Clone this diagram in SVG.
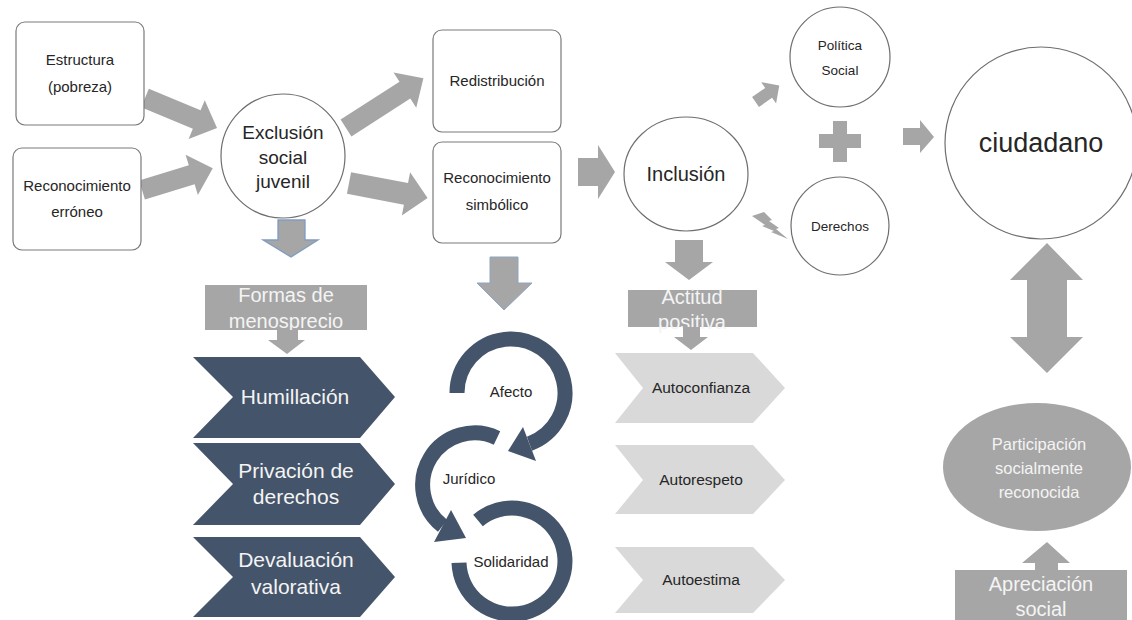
<svg xmlns="http://www.w3.org/2000/svg" width="1132" height="620" viewBox="0 0 1132 620">
<style>
text{font-family:"Liberation Sans",Arial,sans-serif;text-anchor:middle}
.box{fill:#fff;stroke:#7a7a7a;stroke-width:1.2}
.circ{fill:#fff;stroke:#6e6e6e;stroke-width:1.2}
.dk{fill:#262626}
.ga{fill:#a6a6a6}
.wt{fill:#f4f4f4}
.chev{fill:#44546a}
.lchev{fill:#d9d9d9}
.ring{fill:none;stroke:#44546a;stroke-width:15}
</style>
<rect width="1132" height="620" fill="#fff"/>

<g id="connectors">
  <!-- Estructura -> Exclusion -->
  <polygon class="ga" transform="translate(145,98) rotate(22.6)" points="0,-10 56,-10 56,-21 78,0 56,21 56,10 0,10"/>
  <!-- Erroneo -> Exclusion -->
  <polygon class="ga" transform="translate(142,190) rotate(-17)" points="0,-10 52,-10 52,-21 74,0 52,21 52,10 0,10"/>
  <!-- Exclusion -> Redistribucion -->
  <polygon class="ga" transform="translate(346,128) rotate(-32.7)" points="0,-10 70,-10 70,-21 92,0 70,21 70,10 0,10"/>
  <!-- Exclusion -> Reconocimiento simbolico -->
  <polygon class="ga" transform="translate(349,183) rotate(10.8)" points="0,-11 58,-11 58,-22 80,0 58,22 58,11 0,11"/>
  <!-- Reconocimiento simbolico -> Inclusion -->
  <polygon class="ga" points="578,158 598,158 598,145 615,172 598,199 598,186 578,186"/>
  <!-- small arrow to Politica Social -->
  <polygon class="ga" transform="translate(767,94) rotate(-35)" points="-14,-6 2,-6 2,-13 15,0 2,13 2,6 -14,6"/>
  <!-- lightning bolt to Derechos -->
  <polygon class="ga" points="752,216 764,212 772,220 769,221 779,228 776,229 788,239 771,232 774,231 762,226 765,225"/>
  <!-- plus -->
  <polygon class="ga" points="833,121 847,121 847,134 861,134 861,148 847,148 847,162 833,162 833,148 819,148 819,134 833,134"/>
  <!-- arrow to ciudadano -->
  <polygon class="ga" points="903,128 920,128 920,120 934,137 920,153 920,145 903,145"/>
  <!-- down from Exclusion -->
  <polygon class="ga" stroke="#7f9cc2" stroke-width="1.3" points="278,220 305,220 305,240 318,240 291,257 263,240 278,240"/>
  <!-- down from Reconocimiento simbolico -->
  <polygon class="ga" stroke="#8fa6c4" stroke-width="1" points="490,257 518,257 518,283 532,283 504,310 477,283 490,283"/>
  <!-- down from Inclusion -->
  <polygon class="ga" points="675,240 703,240 703,262 713,262 689,280 665,262 675,262"/>
  <!-- double arrow ciudadano <-> participacion -->
  <polygon class="ga" points="1047,243 1083,280 1067,280 1067,337 1083,337 1047,373 1010,337 1027,337 1027,280 1010,280"/>
  <!-- up arrow from Apreciacion social -->
  <polygon class="ga" points="1047,542 1070,563 1058,563 1058,573 1035,573 1035,563 1022,563"/>
</g>

<g id="estructura">
  <rect class="box" x="16" y="22" width="128" height="103" rx="9"/>
  <text class="dk" x="80" y="65" font-size="15">Estructura</text>
  <text class="dk" x="80" y="92" font-size="15">(pobreza)</text>
</g>
<g id="reconocimiento-erroneo">
  <rect class="box" x="13" y="148" width="128" height="102" rx="9"/>
  <text class="dk" x="77" y="191" font-size="15">Reconocimiento</text>
  <text class="dk" x="77" y="217" font-size="15">erróneo</text>
</g>
<g id="exclusion">
  <circle class="circ" cx="283" cy="156" r="62"/>
  <text class="dk" x="283" y="139" font-size="19">Exclusión</text>
  <text class="dk" x="283" y="164" font-size="19">social</text>
  <text class="dk" x="283" y="188" font-size="19">juvenil</text>
</g>
<g id="redistribucion">
  <rect class="box" x="433" y="30" width="128" height="102" rx="9"/>
  <text class="dk" x="497" y="86" font-size="15">Redistribución</text>
</g>
<g id="reconocimiento-simbolico">
  <rect class="box" x="433" y="142" width="128" height="101" rx="9"/>
  <text class="dk" x="497" y="183" font-size="15">Reconocimiento</text>
  <text class="dk" x="497" y="210" font-size="15">simbólico</text>
</g>
<g id="inclusion">
  <ellipse class="circ" cx="686" cy="174" rx="62" ry="57"/>
  <text class="dk" x="686" y="181" font-size="20">Inclusión</text>
</g>
<g id="politica-social">
  <circle class="circ" cx="840" cy="57" r="50"/>
  <text class="dk" x="840" y="50" font-size="13.5">Política</text>
  <text class="dk" x="840" y="75" font-size="13.5">Social</text>
</g>
<g id="derechos">
  <circle class="circ" cx="840" cy="226" r="49"/>
  <text class="dk" x="840" y="231" font-size="13.5">Derechos</text>
</g>
<g id="ciudadano">
  <circle class="circ" cx="1041" cy="143" r="96"/>
  <text class="dk" x="1041" y="152" font-size="27">ciudadano</text>
</g>

<g id="formas-menosprecio">
  <rect class="ga" x="205" y="285" width="162" height="45"/>
  <text class="wt" x="286" y="302" font-size="20">Formas de</text>
  <text class="wt" x="286" y="328" font-size="20">menosprecio</text>
  <polygon class="ga" points="277,330 298,330 298,340 305,340 287,354 268,340 277,340"/>
</g>
<g id="humillacion">
  <polygon class="chev" points="193,357 360,357 395,397 360,438 193,438 233,397"/>
  <text class="wt" x="295" y="404" font-size="21">Humillación</text>
</g>
<g id="privacion">
  <polygon class="chev" points="193,443 360,443 395,484 360,525 193,525 233,484"/>
  <text class="wt" x="296" y="478" font-size="21">Privación de</text>
  <text class="wt" x="296" y="504" font-size="21">derechos</text>
</g>
<g id="devaluacion">
  <polygon class="chev" points="193,537 360,537 395,577 360,617 193,617 233,577"/>
  <text class="wt" x="296" y="567" font-size="21">Devaluación</text>
  <text class="wt" x="296" y="594" font-size="21">valorativa</text>
</g>

<g id="afecto">
  <path class="ring" d="M457,393 A54,54 0 1 1 529.5,443.7"/>
  <polygon class="chev" points="523,427 536,461 508,451"/>
  <text class="dk" x="511" y="397" font-size="15">Afecto</text>
</g>
<g id="juridico">
  <path class="ring" d="M497,438 A52,52 0 0 0 442.6,525.9"/>
  <polygon class="chev" points="451,510 434,542 466,538"/>
  <text class="dk" x="469" y="484" font-size="15">Jurídico</text>
</g>
<g id="solidaridad">
  <path class="ring" d="M478,520.4 A53,53 0 1 1 459,562.8"/>
  <text class="dk" x="511" y="567" font-size="15">Solidaridad</text>
</g>

<g id="actitud-positiva">
  <rect class="ga" x="628" y="290" width="129" height="37"/>
  <text class="wt" x="692" y="304" font-size="20">Actitud</text>
  <text class="wt" x="692" y="329" font-size="20">positiva</text>
  <polygon class="ga" points="683,327 700,327 700,337 708,337 691,350 674,337 683,337"/>
</g>
<g id="autoconfianza">
  <polygon class="lchev" points="615,353 753,353 785,388 753,423 615,423 643,388"/>
  <text class="dk" x="701" y="393" font-size="15.5">Autoconfianza</text>
</g>
<g id="autorespeto">
  <polygon class="lchev" points="615,445 753,445 785,480 753,514 615,514 643,480"/>
  <text class="dk" x="701" y="485" font-size="15.5">Autorespeto</text>
</g>
<g id="autoestima">
  <polygon class="lchev" points="615,547 753,547 785,580 753,613 615,613 643,580"/>
  <text class="dk" x="701" y="585" font-size="15.5">Autoestima</text>
</g>

<g id="participacion">
  <ellipse class="ga" cx="1037" cy="467" rx="94" ry="64"/>
  <text class="wt" x="1039" y="450" font-size="16.5">Participación</text>
  <text class="wt" x="1039" y="474" font-size="16.5">socialmente</text>
  <text class="wt" x="1039" y="498" font-size="16.5">reconocida</text>
</g>
<g id="apreciacion-social">
  <rect class="ga" x="955" y="570" width="172" height="50"/>
  <text class="wt" x="1041" y="591" font-size="20">Apreciación</text>
  <text class="wt" x="1041" y="616" font-size="20">social</text>
</g>
</svg>
